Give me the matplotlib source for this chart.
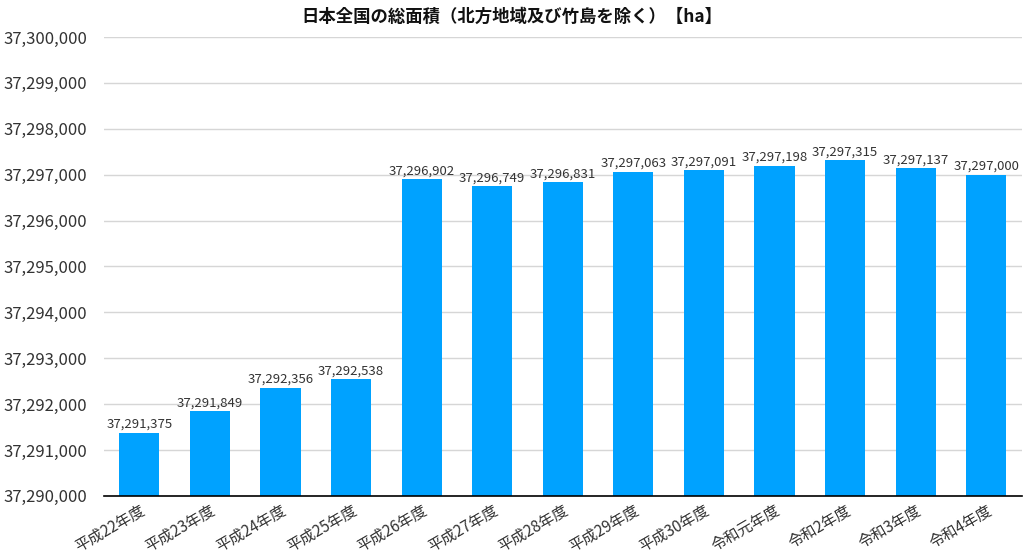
import numpy as np
import matplotlib
matplotlib.use('Agg')
import matplotlib.pyplot as plt
from matplotlib.ticker import FuncFormatter

plt.rcParams['font.family'] = ['Noto Sans CJK JP', 'DejaVu Sans']

# Daten
jahre = ['平成22年度', '平成23年度', '平成24年度', '平成25年度', '平成26年度',
         '平成27年度', '平成28年度', '平成29年度', '平成30年度', '令和元年度',
         '令和2年度', '令和3年度', '令和4年度']
flaeche = [37291375, 37291849, 37292356, 37292538, 37296902,
           37296749, 37296831, 37297063, 37297091, 37297198,
           37297315, 37297137, 37297000]
titel = '日本全国の総面積（北方地域及び竹島を除く）【ha】'

fig = plt.figure(figsize=(10.24, 5.56), dpi=100)
ax = fig.add_axes([0.1016, 0.108, 0.896, 0.8255])

x = np.arange(len(jahre))
ax.bar(x, flaeche, width=0.57, color='#00a2ff', zorder=3)

for xi, v in zip(x, flaeche):
    ax.text(xi, v + 40, f'{v:,}', ha='center', va='bottom',
            fontsize=9.5, color='#333333', zorder=4)

ax.set_ylim(37290000, 37300000)
ax.set_yticks(np.arange(37290000, 37300001, 1000))
ax.yaxis.set_major_formatter(FuncFormatter(lambda v, p: f'{int(v):,}'))
ax.set_xlim(-0.5, len(jahre) - 0.5)
ax.set_xticks(x)
ax.set_xticklabels(jahre, rotation=30, ha='right', rotation_mode='anchor')

ax.grid(axis='y', color='#d6d6d6', linewidth=1, zorder=0)
for s in ['top', 'right', 'left']:
    ax.spines[s].set_visible(False)
ax.spines['bottom'].set_color('#000000')
ax.spines['bottom'].set_linewidth(1.2)
ax.spines['bottom'].set_zorder(5)
ax.tick_params(axis='y', length=0, labelsize=12, colors='#333333', pad=12)
ax.tick_params(axis='x', length=0, labelsize=11, colors='#333333', pad=4)

# Titel mittig über der ganzen Abbildung
fig.text(0.5, 0.97, titel, ha='center', va='center',
         fontsize=12.5, fontweight='bold', color='#111111')

plt.savefig('out.png', dpi=100)
